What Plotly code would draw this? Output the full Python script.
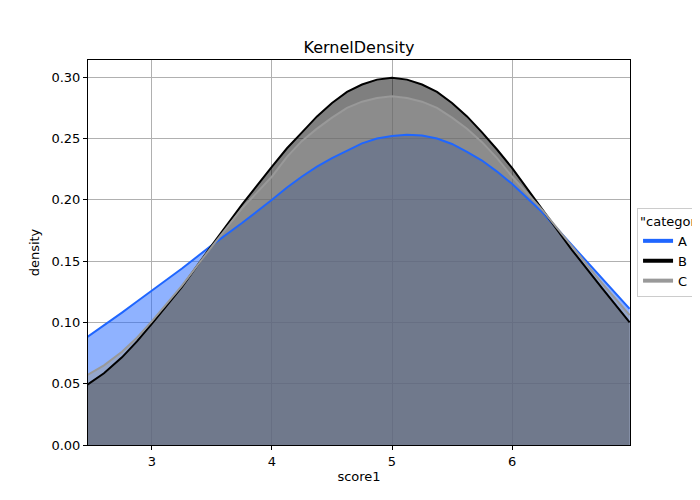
import plotly.graph_objects as go

# values (denser around the peaks)
score1 = [2.46, 2.6, 2.75, 2.875, 3.0, 3.25, 3.5, 3.75, 4.0, 4.125, 4.25, 4.375, 4.5,
          4.625, 4.75, 4.875, 5.0, 5.125, 5.25, 5.375, 5.5, 5.625, 5.75,
          5.875, 6.0, 6.25, 6.5, 6.75, 6.98]
dens_a = [0.088, 0.0975, 0.108, 0.117, 0.126, 0.144, 0.163, 0.181, 0.200, 0.210, 0.219,
          0.227, 0.234, 0.240, 0.246, 0.250, 0.252, 0.253, 0.2525, 0.250, 0.2455,
          0.239, 0.232, 0.223, 0.213, 0.190, 0.163, 0.136, 0.111]
dens_b = [0.049, 0.0585, 0.0715, 0.0845, 0.099, 0.129, 0.163, 0.196, 0.227, 0.242, 0.255,
          0.268, 0.279, 0.288, 0.294, 0.298, 0.2995, 0.298, 0.294, 0.288, 0.279,
          0.268, 0.255, 0.241, 0.226, 0.193, 0.159, 0.128, 0.100]
dens_c = [0.057, 0.065, 0.076, 0.0875, 0.101, 0.130, 0.162, 0.193, 0.219, 0.235, 0.248,
          0.258, 0.267, 0.275, 0.280, 0.283, 0.2845, 0.283, 0.280, 0.275, 0.267,
          0.258, 0.247, 0.234, 0.219, 0.192, 0.162, 0.132, 0.106]

categories = ["A", "B", "C"]
series = [dens_a, dens_b, dens_c]
colors = ["#1f66ff", "#000000", "#999999"]
fills = ["rgba(31,102,255,0.5)", "rgba(0,0,0,0.5)", "rgba(153,153,153,0.5)"]

fig = go.Figure()
# filled areas first
for name, ys, fc in zip(categories, series, fills):
    fig.add_trace(go.Scatter(x=score1, y=ys, mode="lines", name=name,
                             line=dict(width=0),
                             fill="tozeroy", fillcolor=fc, showlegend=False,
                             hoverinfo="skip"))
# lines on top of all fills
for name, ys, col in zip(categories, series, colors):
    fig.add_trace(go.Scatter(x=score1, y=ys, mode="lines", name=name,
                             line=dict(color=col, width=2),
                             showlegend=False))
# line-only legend entries
for name, col in zip(categories, colors):
    fig.add_trace(go.Scatter(x=[None], y=[None], mode="lines", name=name,
                             line=dict(color=col, width=4)))

axis_style = dict(showline=True, linecolor="black", linewidth=1, mirror=True,
                  ticks="outside", ticklen=4, tickcolor="black",
                  showgrid=True, gridcolor="#b0b0b0", gridwidth=1,
                  zeroline=False, tickfont=dict(size=13, color="black"))

fig.update_layout(
    width=700, height=500,
    margin=dict(l=80, r=78, t=52, b=63, autoexpand=False),
    plot_bgcolor="white", paper_bgcolor="white",
    font=dict(family="DejaVu Sans", color="black"),
    title=dict(text="KernelDensity", x=0.5, xref="paper", xanchor="center",
               y=0.922, yref="container", yanchor="middle", font=dict(size=16)),
    xaxis=dict(range=[2.467, 6.983], tickvals=[3, 4, 5, 6],
               title=dict(text="score1", font=dict(size=13), standoff=4), **axis_style),
    yaxis=dict(range=[0, 0.314], tickvals=[0, 0.05, 0.1, 0.15, 0.2, 0.25, 0.3],
               tickformat=".2f",
               title=dict(text="density", font=dict(size=13), standoff=8), **axis_style),
    legend=dict(title=dict(text='"category"', font=dict(size=13)),
                x=1.013, xanchor="left", y=0.5, yanchor="middle",
                bordercolor="#cccccc", borderwidth=1, bgcolor="white",
                font=dict(size=13)),
)

fig.write_html("out.html")
